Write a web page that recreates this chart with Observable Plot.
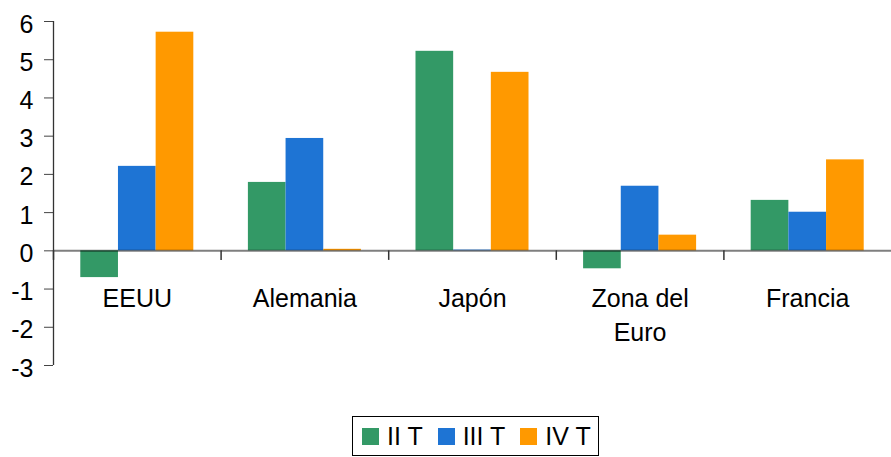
<!DOCTYPE html>
<html>
<head>
<meta charset="utf-8">
<script src="https://cdn.jsdelivr.net/npm/d3@7"></script>
<script src="https://cdn.jsdelivr.net/npm/@observablehq/plot@0.6"></script>
<style>
  html, body { margin: 0; padding: 0; background: #fff; }
  body { width: 891px; height: 457px; overflow: hidden; font-family: "Liberation Sans", Arial, sans-serif; }
  #legend { display: inline-flex; align-items: center; border: 1.5px solid #000; box-sizing: border-box;
            height: 40px; margin-left: 352px; margin-top: 21px; padding: 0 7px 0 9px; gap: 15px; }
  #legend .item { display: flex; align-items: center; gap: 8px; font-size: 25px; color: #000; }
  #legend .sw { width: 17px; height: 17px; display: inline-block; }
</style>
</head>
<body>
<div id="chart"></div>
<div id="legend"></div>
<script>
const countries = ["EEUU", "Alemania", "Japón", "Zona del Euro", "Francia"];
const countryLabels = ["EEUU", "Alemania", "Japón", "Zona del\nEuro", "Francia"];
const series = ["II T", "III T", "IV T"];
const valuesIIT  = [-0.70, 1.79, 5.22, -0.47, 1.32];
const valuesIIIT = [ 2.21, 2.94, 0.02,  1.69, 1.01];
const valuesIVT  = [ 5.72, 0.04, 4.67,  0.41, 2.38];
const yTicks = [-3, -2, -1, 0, 1, 2, 3, 4, 5, 6];
const colors = ["#339966", "#1E74D4", "#FF9900"];

const seriesValues = [valuesIIT, valuesIIIT, valuesIVT];
const data = series.flatMap((s, si) => countries.map((c, ci) => ({country: c, series: s, value: seriesValues[si][ci]})));

const W = 891, H = 395, mL = 53, mR = 0, mT = 21, mB = 30;
const step = (W - mL - mR) / countries.length;

const chart = Plot.plot({
  width: W, height: H,
  marginLeft: mL, marginRight: mR, marginTop: mT, marginBottom: mB,
  style: {fontFamily: "'Liberation Sans', Arial, sans-serif", fontSize: "25px", color: "#000", background: "#fff"},
  fx: {domain: countries, axis: null, padding: 0, round: false},
  x: {domain: series, axis: null, paddingInner: 0, paddingOuter: 0.7245, round: false},
  y: {domain: [-3, 6], label: null},
  color: {domain: series, range: colors},
  marks: [
    Plot.axisY({ticks: yTicks, tickSize: 9, tickFormat: () => "", label: null, stroke: "#444"}),
    Plot.axisY({ticks: yTicks, tickSize: 0, tickPadding: 20, tickFormat: d => String(d), label: null,
                fontSize: 25, dy: 3, fill: "#000"}),
    Plot.barY(data, {fx: "country", x: "series", y: "value", fill: "series"}),
    Plot.ruleY([0], {stroke: "black", strokeOpacity: 0.5, strokeWidth: 2}),
    Plot.ruleX([countries[0]], {fx: d => d, x: null, dx: -step / 2, y1: -3, y2: 6, stroke: "#333", strokeWidth: 1.3}),
    Plot.ruleX(countries, {fx: d => d, x: null, dx: -step / 2, y1: 0, y2: -0.25, stroke: "#333", strokeWidth: 1.5}),
    Plot.text(countries, {fx: d => d, y: 0, text: (d, i) => countryLabels[i], lineAnchor: "top", dy: 32,
                          lineHeight: 1.36, fontSize: 25, fill: "#000"})
  ]
});
document.getElementById("chart").appendChild(chart);

const legend = document.getElementById("legend");
series.forEach((s, i) => {
  const item = document.createElement("div");
  item.className = "item";
  const sw = document.createElement("span");
  sw.className = "sw";
  sw.style.background = colors[i];
  const t = document.createElement("span");
  t.textContent = s;
  item.appendChild(sw);
  item.appendChild(t);
  legend.appendChild(item);
});
</script>
</body>
</html>
